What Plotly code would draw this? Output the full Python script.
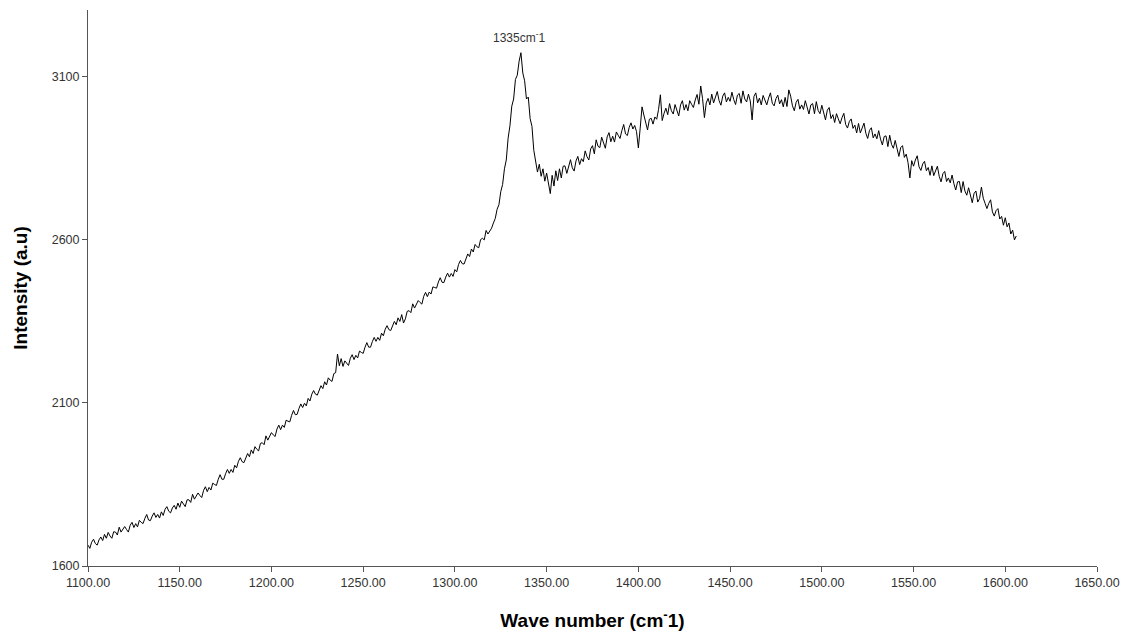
import plotly.graph_objects as go

# Wave number grid (cm^-1): start and step of the sampled spectrum
wn_start = 1100
wn_step = 1

# Intensity values (a.u.), 1100 .. 1606 cm^-1
intensity = [
    1664, 1654, 1673, 1682, 1669, 1664, 1680, 1689, 1678, 1697,
    1685, 1703, 1692, 1685, 1705, 1704, 1695, 1719, 1704, 1711,
    1721, 1712, 1704, 1725, 1734, 1718, 1730, 1720, 1740, 1734,
    1730, 1746, 1758, 1741, 1739, 1753, 1763, 1749, 1758, 1747,
    1766, 1755, 1774, 1782, 1768, 1763, 1778, 1786, 1774, 1793,
    1780, 1799, 1789, 1782, 1803, 1803, 1795, 1820, 1805, 1813,
    1824, 1816, 1810, 1832, 1843, 1828, 1841, 1833, 1854, 1850,
    1847, 1866, 1880, 1866, 1866, 1883, 1896, 1884, 1896, 1887,
    1909, 1901, 1921, 1932, 1920, 1917, 1934, 1945, 1935, 1956,
    1945, 1966, 1958, 1953, 1976, 1978, 1972, 1999, 1986, 1996,
    2009, 2002, 1997, 2020, 2032, 2018, 2032, 2025, 2047, 2044,
    2042, 2062, 2077, 2064, 2065, 2083, 2097, 2086, 2099, 2091,
    2114, 2106, 2127, 2138, 2127, 2124, 2142, 2153, 2144, 2165,
    2155, 2177, 2170, 2166, 2190, 2193, 2250, 2214, 2236, 2212,
    2229, 2221, 2215, 2237, 2248, 2233, 2246, 2238, 2259, 2255,
    2252, 2271, 2285, 2271, 2271, 2288, 2301, 2289, 2301, 2292,
    2314, 2306, 2326, 2337, 2325, 2322, 2339, 2350, 2340, 2361,
    2350, 2371, 2345, 2358, 2381, 2383, 2377, 2404, 2391, 2401,
    2414, 2408, 2403, 2427, 2439, 2426, 2440, 2434, 2456, 2454,
    2452, 2471, 2484, 2470, 2469, 2486, 2498, 2486, 2497, 2488,
    2509, 2502, 2525, 2537, 2527, 2526, 2545, 2557, 2549, 2572,
    2563, 2586, 2579, 2576, 2601, 2605, 2600, 2629, 2618, 2629,
    2636, 2652, 2666, 2694, 2708, 2748, 2770, 2818, 2845, 2912,
    2950, 3010, 3032, 3092, 3105, 3148, 3174, 3112, 3088, 3032,
    3038, 2972, 2948, 2875, 2842, 2808, 2832, 2795, 2818, 2780,
    2805, 2770, 2742, 2798, 2765, 2812, 2782, 2818, 2790, 2826,
    2827, 2804, 2826, 2846, 2821, 2811, 2842, 2856, 2831, 2849,
    2840, 2873, 2855, 2845, 2879, 2889, 2864, 2907, 2887, 2883,
    2915, 2897, 2881, 2916, 2929, 2901, 2918, 2900, 2931, 2921,
    2911, 2935, 2954, 2925, 2920, 2945, 2959, 2940, 2951, 2932,
    2882, 2943, 3008, 2983, 2957, 2937, 2970, 2973, 2955, 2977,
    2970, 3000, 3045, 2966, 2988, 3004, 2984, 3018, 2996, 2986,
    3015, 2996, 2980, 3014, 3027, 2998, 3015, 2996, 3027, 3016,
    3006, 3029, 3046, 3016, 3072, 3033, 2975, 3020, 3034, 3014,
    3047, 3020, 3039, 3055, 3027, 3013, 3041, 3051, 3023, 3037,
    3025, 3053, 3030, 3015, 3044, 3049, 3019, 3057, 3032, 3023,
    3047, 3026, 2968, 3040, 3051, 3020, 3035, 3014, 3043, 3030,
    3014, 3035, 3051, 3019, 3011, 3033, 3044, 3017, 3030, 3008,
    3037, 3009, 3060, 3041, 3011, 2996, 3022, 3031, 3001, 3014,
    3000, 3027, 3003, 2986, 3014, 3018, 2987, 3024, 2997, 2987,
    3013, 2989, 2968, 2998, 3006, 2972, 2984, 2960, 2987, 2971,
    2956, 2975, 2988, 2954, 2943, 2963, 2971, 2942, 2952, 2928,
    2957, 2928, 2944, 2958, 2927, 2911, 2936, 2944, 2913, 2925,
    2910, 2935, 2909, 2891, 2917, 2919, 2886, 2921, 2893, 2881,
    2905, 2879, 2856, 2883, 2889, 2853, 2863, 2837, 2790, 2843,
    2826, 2845, 2858, 2824, 2813, 2833, 2841, 2812, 2822, 2798,
    2827, 2797, 2813, 2826, 2795, 2778, 2803, 2810, 2779, 2790,
    2775, 2799, 2772, 2753, 2778, 2779, 2745, 2779, 2750, 2737,
    2760, 2736, 2714, 2743, 2750, 2716, 2727, 2762, 2728, 2712,
    2696, 2712, 2723, 2686, 2673, 2690, 2696, 2664, 2672, 2645,
    2668, 2640, 2652, 2618, 2630, 2600, 2612,
]
wavenumber = [wn_start + wn_step * i for i in range(len(intensity))]

x_ticks = [1100, 1150, 1200, 1250, 1300, 1350, 1400, 1450, 1500, 1550, 1600, 1650]
y_ticks = [1600, 2100, 2600, 3100]
peak_x, peak_y, peak_label = 1335, 3174, "1335cm<sup>-</sup>1"

fig = go.Figure()
fig.add_trace(go.Scatter(
    x=wavenumber, y=intensity, mode="lines",
    line=dict(color="#000000", width=1),
    showlegend=False, hoverinfo="x+y",
))

fig.add_annotation(
    x=peak_x, y=peak_y, text=peak_label, showarrow=False,
    yshift=16, font=dict(family="Arial, Liberation Sans, sans-serif", size=12, color="#333333"),
)

tick_font = dict(family="Arial, Liberation Sans, sans-serif", size=12.5, color="#333333")
title_font = dict(family="Arial, Liberation Sans, sans-serif", size=19, color="#000000")

fig.update_layout(
    width=1126, height=635,
    margin=dict(l=88, r=29, t=10, b=69),
    paper_bgcolor="white", plot_bgcolor="white",
    xaxis=dict(
        range=[1100, 1650], tickvals=x_ticks, tickformat=".2f",
        ticks="outside", ticklen=5, tickcolor="#555555", tickwidth=1,
        showline=True, linecolor="#555555", linewidth=1,
        showgrid=False, zeroline=False, tickfont=tick_font,
        title=dict(text="<b>Wave number (cm<sup>-</sup>1)</b>", font=title_font, standoff=24),
        automargin=False,
    ),
    yaxis=dict(
        range=[1600, 3305], tickvals=y_ticks,
        ticks="outside", ticklen=5, tickcolor="#555555", tickwidth=1,
        showline=True, linecolor="#555555", linewidth=1,
        showgrid=False, zeroline=False, tickfont=tick_font,
        title=dict(text="<b>Intensity (a.u)</b>", font=title_font, standoff=19),
        automargin=False,
    ),
)

fig.write_html(
    "out.html",
    config={"displayModeBar": False},
    post_script="document.body.style.margin='0';document.body.style.overflow='hidden';",
)
